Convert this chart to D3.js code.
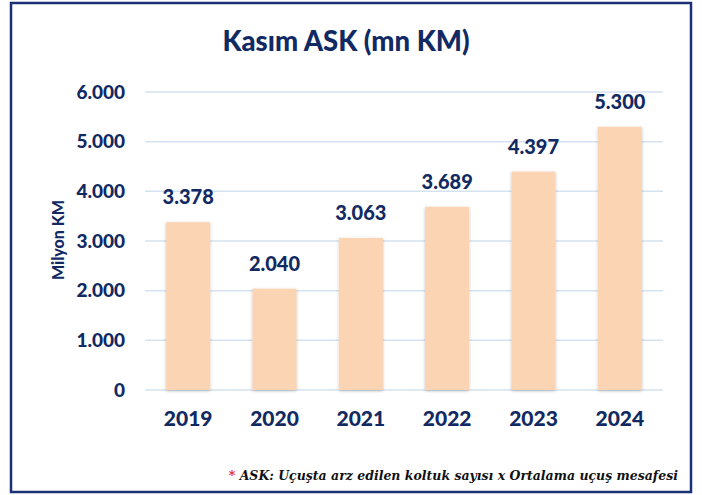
<!DOCTYPE html>
<html>
<head>
<meta charset="utf-8">
<script src="https://cdn.jsdelivr.net/npm/d3@7"></script>
<style>
  body { margin: 0; background: #fff; }
  svg { display: block; }
</style>
</head>
<body>
<div id="chart"></div>
<script>
const years = ["2019", "2020", "2021", "2022", "2023", "2024"];
const askValues = [3378, 2040, 3063, 3689, 4397, 5300];
const yTicks = [0, 1000, 2000, 3000, 4000, 5000, 6000];

const width = 702, height = 495;
const navy = "#112a63";
const font = "Lato, 'Open Sans', sans-serif";
const fmt = v => d3.format(",")(v).replace(/,/g, ".");

const svg = d3.select("#chart").append("svg")
  .attr("width", width).attr("height", height);

const defs = svg.append("defs");
const f = defs.append("filter").attr("id", "shadow")
  .attr("x", "-20%").attr("y", "-10%").attr("width", "140%").attr("height", "120%");
f.append("feDropShadow").attr("dx", 0).attr("dy", 1).attr("stdDeviation", 1.5)
  .attr("flood-color", "#000").attr("flood-opacity", 0.25);

// frame
svg.append("rect")
  .attr("x", 11).attr("y", 3).attr("width", 680).attr("height", 489)
  .attr("fill", "#fff").attr("stroke", "#1a3275").attr("stroke-width", 2.5);

// title
svg.append("text")
  .attr("x", 346).attr("y", 51).attr("text-anchor", "middle")
  .attr("font-family", font).attr("font-weight", 900)
  .attr("font-size", 27.5).attr("fill", navy)
  .text("Kasım ASK (mn KM)");

const x = d3.scaleBand().domain(years).range([145, 663]).paddingInner(0.49).paddingOuter(0.245);
const y = d3.scaleLinear().domain([0, 6000]).range([390, 92]);

// gridlines
svg.append("g").selectAll("line").data(yTicks).join("line")
  .attr("x1", 145).attr("x2", 663)
  .attr("y1", d => y(d)).attr("y2", d => y(d))
  .attr("stroke", "#d5e2f1").attr("stroke-width", 1.5);

// y axis labels
const yAxis = svg.append("g").attr("transform", "translate(125,0)")
  .call(d3.axisLeft(y).tickValues(yTicks).tickFormat(fmt).tickSize(0).tickPadding(0));
yAxis.select(".domain").remove();
yAxis.selectAll("text")
  .attr("font-family", font).attr("font-weight", 900)
  .attr("font-size", 19).attr("fill", navy);

// x axis labels
const xAxis = svg.append("g").attr("transform", "translate(0,411)")
  .call(d3.axisBottom(x).tickSize(0).tickPadding(0));
xAxis.select(".domain").remove();
xAxis.selectAll("text")
  .attr("font-family", font).attr("font-weight", 900)
  .attr("font-size", 21).attr("fill", navy);

// bars
svg.append("g").selectAll("rect").data(askValues).join("rect")
  .attr("x", (d, i) => x(years[i]))
  .attr("width", x.bandwidth())
  .attr("y", d => y(d))
  .attr("height", d => y(0) - y(d))
  .attr("fill", "#fbd4b4")
  .attr("filter", "url(#shadow)");

// value labels
svg.append("g").selectAll("text").data(askValues).join("text")
  .attr("x", (d, i) => x(years[i]) + x.bandwidth() / 2)
  .attr("y", d => y(d) - 18)
  .attr("text-anchor", "middle")
  .attr("font-family", font).attr("font-weight", 900)
  .attr("font-size", 20).attr("fill", navy)
  .text(fmt);

// y axis title
svg.append("text")
  .attr("transform", "translate(64,240) rotate(-90)")
  .attr("text-anchor", "middle")
  .attr("font-family", font).attr("font-weight", 900)
  .attr("font-size", 16).attr("fill", navy)
  .text("Milyon KM");

// footnote
const note = svg.append("text")
  .attr("x", 678).attr("y", 480).attr("text-anchor", "end")
  .attr("font-family", "'DejaVu Serif', 'Liberation Serif', serif")
  .attr("font-weight", "bold").attr("font-style", "italic")
  .attr("font-size", 12.5).attr("fill", "#111");
note.append("tspan").attr("fill", "#e3262a").text("* ");
note.append("tspan").text("ASK: Uçuşta arz edilen koltuk sayısı x Ortalama uçuş mesafesi");
</script>
</body>
</html>
